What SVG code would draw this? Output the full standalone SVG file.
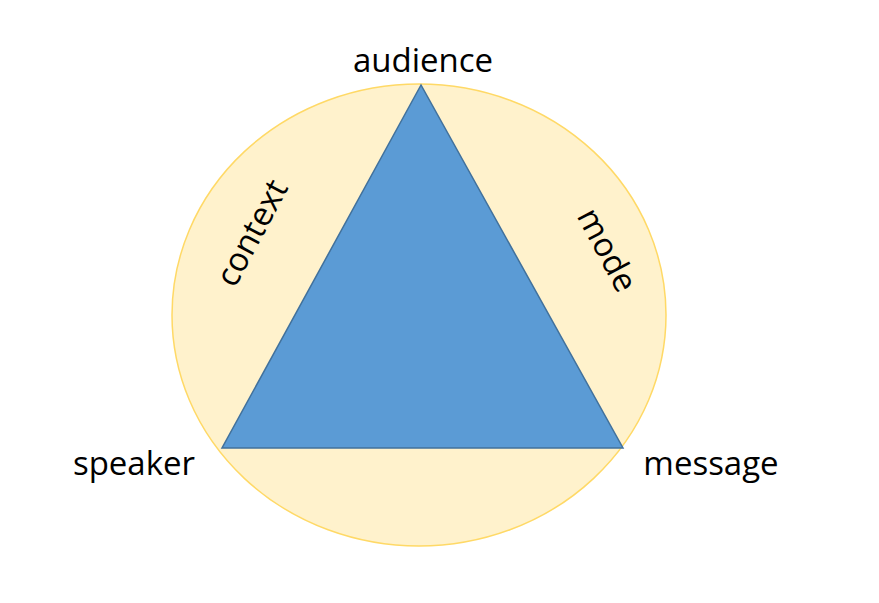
<svg xmlns="http://www.w3.org/2000/svg" width="879" height="603" viewBox="0 0 879 603">
<style>
text{font-family:"Open Sans","Liberation Sans",sans-serif;font-size:33px;fill:#000}
</style>
<rect width="879" height="603" fill="#fff"/>
<g id="circle"><ellipse cx="419" cy="315" rx="247" ry="231" fill="#FFF2CC" stroke="#FFD966" stroke-width="1.5"/></g>
<g id="triangle"><polygon points="421,85 222,448 623,448" fill="#5B9BD5" stroke="#41719C" stroke-width="1.5"/></g>
<g id="audience"><text x="423" y="72" text-anchor="middle">audience</text></g>
<g id="speaker"><text x="134" y="475" text-anchor="middle">speaker</text></g>
<g id="message"><text x="711" y="475" text-anchor="middle">message</text></g>
<g id="context"><text transform="translate(252,233) rotate(-62)" y="11" text-anchor="middle">context</text></g>
<g id="mode"><text transform="translate(607,250) rotate(62)" y="11" text-anchor="middle">mode</text></g>
<g id="connectors"/>
</svg>
